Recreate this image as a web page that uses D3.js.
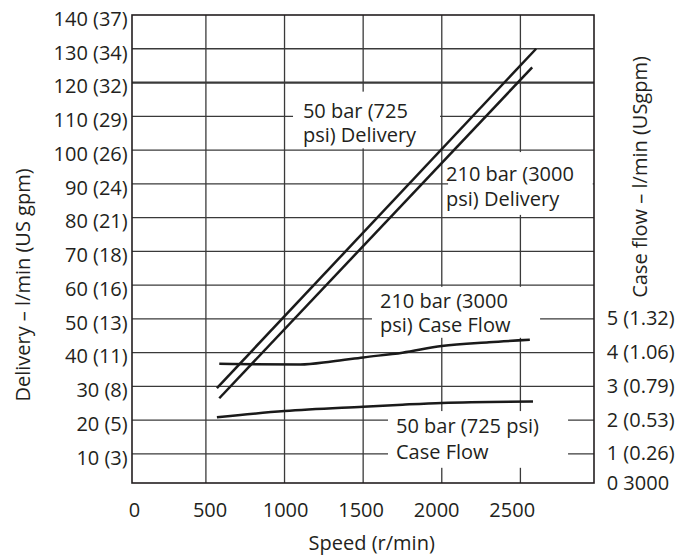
<!DOCTYPE html>
<html><head><meta charset="utf-8">
<script src="https://cdn.jsdelivr.net/npm/d3@7"></script>
<style>body{margin:0;background:#fff}svg text{font-family:'Open Sans',sans-serif;fill:#231f20}</style>
</head><body><svg id="c" width="689" height="556"></svg>
<script>
// ---- data ----
const speedTicks = [0, 500, 1000, 1500, 2000, 2500];
const deliveryTicks = [10, 20, 30, 40, 50, 60, 70, 80, 90, 100, 110, 120, 130, 140];
const deliveryLabels = ["10 (3)", "20 (5)", "30 (8)", "40 (11)", "50 (13)", "60 (16)", "70 (18)", "80 (21)", "90 (24)", "100 (26)", "110 (29)", "120 (32)", "130 (34)", "140 (37)"];
const caseTicks = [0, 1, 2, 3, 4, 5];
const caseLabels = ["0 3000", "1 (0.26)", "2 (0.53)", "3 (0.79)", "4 (1.06)", "5 (1.32)"];

const delivery50Speed = [570, 2600];
const delivery50 = [29.5, 130];
const delivery210Speed = [585, 2575];
const delivery210 = [26.5, 124.5];
const case210Speed = [585, 1100, 1300, 1500, 1750, 2000, 2300, 2560];
const case210 = [3.67, 3.65, 3.74, 3.86, 4.0, 4.2, 4.31, 4.38];
const case50Speed = [570, 1000, 1500, 1750, 2000, 2580];
const case50 = [2.09, 2.27, 2.40, 2.46, 2.51, 2.55];

// ---- layout ----
const L = 132, T = 15, R = 594, B = 483;
const svg = d3.select("#c");
const x = d3.scaleLinear().domain([30, 2968]).range([L, R]);
const xLabel = d3.scaleLinear().domain([0, 2500]).range([134, 511.7]);
const y = d3.scaleLinear().domain([1.4, 140]).range([B, T]);
const yCase = d3.scaleLinear().domain([0.14, 14]).range([B, T]).clamp(true);

const gridColor = "#3a3a3a";
// gridlines
svg.append("g").selectAll("line").data(speedTicks.filter(d => d > 0)).join("line")
  .attr("x1", d => x(d)).attr("x2", d => x(d)).attr("y1", T).attr("y2", B)
  .attr("stroke", gridColor).attr("stroke-width", 1.3);
svg.append("g").selectAll("line").data(deliveryTicks.filter(d => d < 140)).join("line")
  .attr("x1", L).attr("x2", R).attr("y1", d => y(d)).attr("y2", d => y(d))
  .attr("stroke", gridColor).attr("stroke-width", d => d === 120 ? 2.2 : 1.3);

// annotation boxes (white, break the grid)
const boxes = [
  {s0: 1054, s1: 1989, v0: 100.5, v1: 117.3},
  {s0: 2040, s1: 2960, v0: 80.8, v1: 99.4},
  {s0: 1556, s1: 2625, v0: 44.4, v1: 59.5},
  {s0: 1658, s1: 2803, v0: 5.9, v1: 22.7}
];
svg.append("g").selectAll("rect").data(boxes).join("rect")
  .attr("x", d => x(d.s0)).attr("width", d => x(d.s1) - x(d.s0))
  .attr("y", d => y(d.v1)).attr("height", d => y(d.v0) - y(d.v1))
  .attr("fill", "#fff");

// frame
svg.append("rect").attr("x", L).attr("y", T).attr("width", R - L).attr("height", B - T)
  .attr("fill", "none").attr("stroke", "#231f20").attr("stroke-width", 1.6);

// curves
const lineD = d3.line().x(d => x(d[0])).y(d => y(d[1]));
const lineC = d3.line().x(d => x(d[0])).y(d => yCase(d[1])).curve(d3.curveMonotoneX);
const curveStyle = sel => sel.attr("fill", "none").attr("stroke", "#1a1a1a").attr("stroke-width", 2.5);
svg.append("path").datum(d3.zip(delivery50Speed, delivery50)).attr("d", lineD).call(curveStyle);
svg.append("path").datum(d3.zip(delivery210Speed, delivery210)).attr("d", lineD).call(curveStyle);
svg.append("path").datum(d3.zip(case210Speed, case210)).attr("d", lineC).call(curveStyle);
svg.append("path").datum(d3.zip(case50Speed, case50)).attr("d", lineC).call(curveStyle);

// axes
const fs = "20px";
const gl = svg.append("g").attr("transform", `translate(${L},0)`)
  .call(d3.axisLeft(y).tickValues(deliveryTicks).tickFormat((d, i) => deliveryLabels[i]).tickSize(0).tickPadding(4.3));
gl.select(".domain").remove();
gl.selectAll("text").attr("dy", 10.3).style("font-size", fs).attr("font-family", null);

const gr = svg.append("g").attr("transform", `translate(${R},0)`)
  .call(d3.axisRight(yCase).tickValues(caseTicks).tickFormat((d, i) => caseLabels[i]).tickSize(0).tickPadding(12.7));
gr.select(".domain").remove();
gr.selectAll("text").attr("dy", 6).style("font-size", fs).attr("font-family", null);

const gb = svg.append("g").attr("transform", `translate(0,${B})`)
  .call(d3.axisBottom(xLabel).tickValues(speedTicks).tickFormat(d3.format("d")).tickSize(0).tickPadding(0));
gb.select(".domain").remove();
gb.selectAll("text").attr("y", 0).attr("dy", 33.7).style("font-size", fs).attr("font-family", null);

// axis titles
svg.append("text").attr("x", 371.7).attr("y", 550).attr("text-anchor", "middle")
  .style("font-size", "20px").text("Speed (r/min)");
svg.append("text").attr("transform", "translate(30,285) rotate(-90)").attr("text-anchor", "middle")
  .style("font-size", "20px").text("Delivery – l/min (US gpm)");
svg.append("text").attr("transform", "translate(647,177) rotate(-90)").attr("text-anchor", "middle")
  .style("font-size", "20px").text("Case flow – l/min (USgpm)");

// annotations
const annotations = [
  {lines: ["50 bar (725", "psi) Delivery"], s: 1117, v: 109.6, lh: 24.6},
  {lines: ["210 bar (3000", "psi) Delivery"], s: 2027, v: 90.8, lh: 24.6},
  {lines: ["210 bar (3000", "psi) Case Flow"], s: 1607, v: 53.3, lh: 24.6},
  {lines: ["50 bar (725 psi)", "Case Flow"], s: 1709, v: 16.1, lh: 25.5}
];
const at = svg.append("g").selectAll("text").data(annotations).join("text")
  .attr("x", d => x(d.s)).attr("y", d => y(d.v)).style("font-size", "20px");
at.selectAll("tspan").data(d => d.lines.map((t, i) => ({t, i, d}))).join("tspan")
  .attr("x", o => x(o.d.s)).attr("dy", o => o.i ? o.d.lh : 0).text(o => o.t);
</script></body></html>
